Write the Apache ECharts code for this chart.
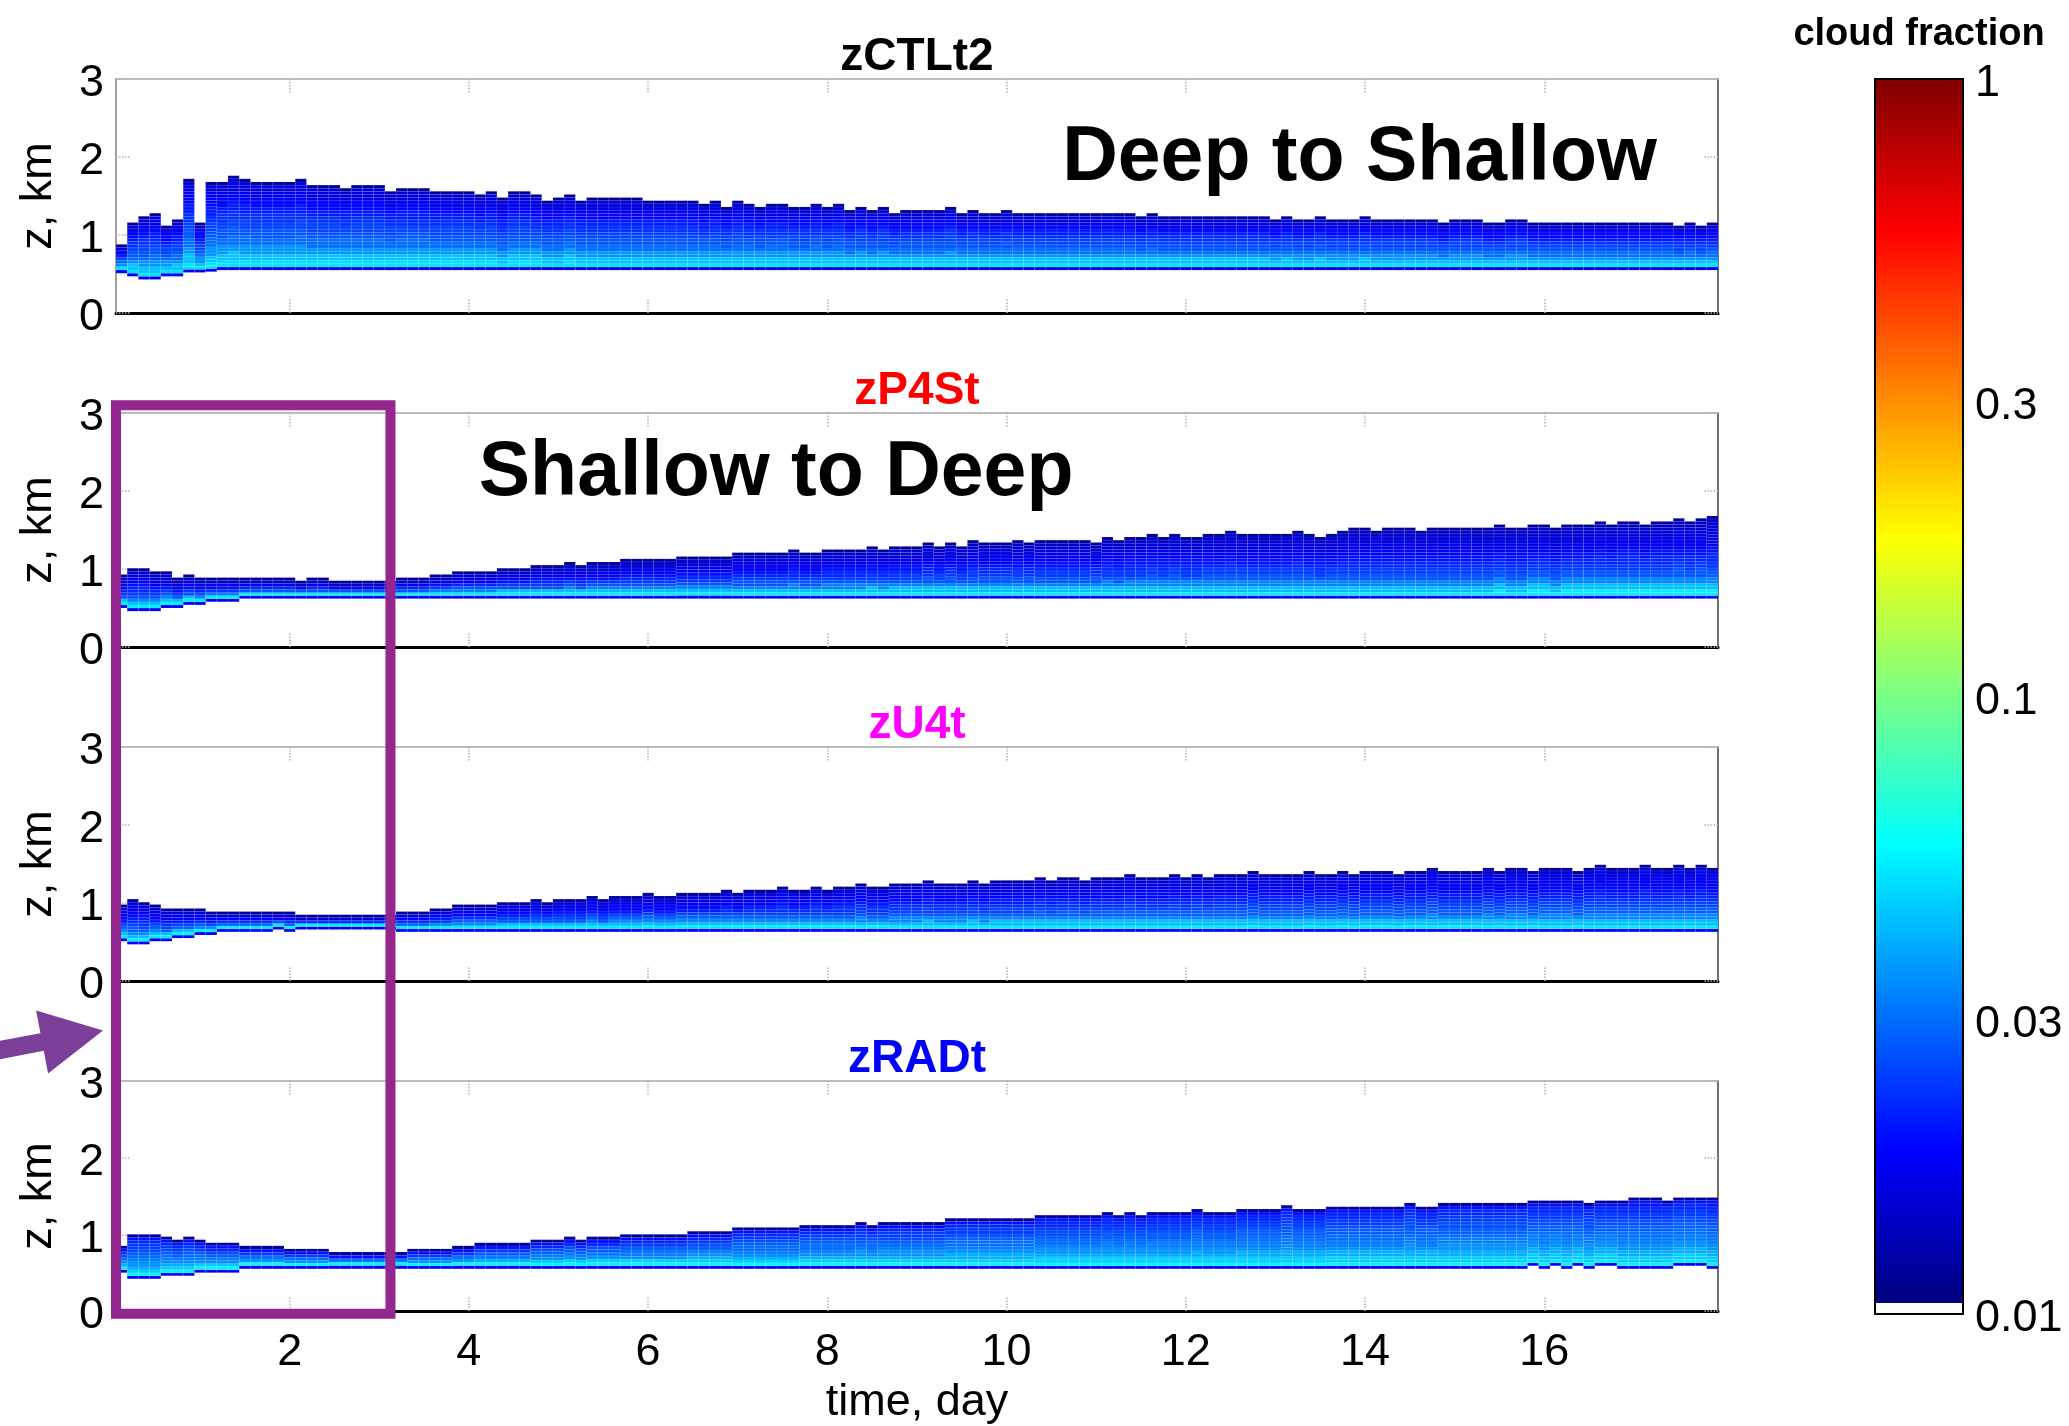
<!DOCTYPE html>
<html>
<head>
<meta charset="utf-8">
<script src="https://cdn.jsdelivr.net/npm/echarts@6/dist/echarts.min.js"></script>
<style>html,body{margin:0;padding:0;background:#fff}#c{width:2069px;height:1426px}</style>
</head>
<body>
<div id="c"></div>
<script>
// ---------------- data ----------------
const T0 = 0.0625;   // start of first 3-hourly bin (day)
const DT = 0.125;    // bin width (day)
const NBIN = 143;
const DZ = 0.04;     // vertical level thickness (km)
const xTickValues = [2, 4, 6, 8, 10, 12, 14, 16];
const cbTickValues = [0.01, 0.03, 0.1, 0.3, 1];
const panelNames = ['zCTLt2', 'zP4St', 'zU4t', 'zRADt'];
const panelColors = ['#000000', '#ff0000', '#ff00ff', '#0000ff'];
const noteTexts = ['Deep to Shallow', 'Shallow to Deep'];

// cloud top height (km) per 3-h bin
const topCTL = [
0.88,1.16,1.24,1.28,1.12,1.20,1.72,1.16,1.68,1.68,
1.76,1.72,1.68,1.68,1.68,1.68,1.72,1.64,1.64,1.64,
1.60,1.64,1.64,1.64,1.56,1.60,1.60,1.60,1.56,1.56,
1.56,1.56,1.52,1.56,1.48,1.56,1.56,1.52,1.44,1.48,
1.52,1.44,1.48,1.48,1.48,1.48,1.48,1.44,1.44,1.44,
1.44,1.44,1.40,1.44,1.36,1.44,1.40,1.36,1.40,1.40,
1.36,1.36,1.40,1.36,1.40,1.32,1.36,1.32,1.36,1.28,
1.32,1.32,1.32,1.32,1.36,1.28,1.32,1.28,1.28,1.32,
1.28,1.28,1.28,1.28,1.28,1.28,1.28,1.28,1.28,1.28,
1.28,1.24,1.28,1.24,1.24,1.24,1.24,1.24,1.24,1.24,
1.24,1.24,1.24,1.20,1.24,1.20,1.20,1.24,1.20,1.20,
1.20,1.24,1.20,1.20,1.20,1.20,1.20,1.20,1.16,1.20,
1.20,1.20,1.16,1.16,1.20,1.20,1.16,1.16,1.16,1.16,
1.16,1.16,1.16,1.16,1.16,1.16,1.16,1.16,1.16,1.12,
1.16,1.12,1.16];
const baseCTL = [
0.51,0.47,0.43,0.43,0.47,0.47,0.52,0.52,0.53,0.55,
0.55,0.55,0.55,0.55,0.55,0.55,0.55,0.55,0.55,0.55,
0.55,0.55,0.55,0.55,0.55,0.55,0.55,0.55,0.55,0.55,
0.55,0.55,0.55,0.55,0.55,0.55,0.55,0.55,0.55,0.55,
0.55,0.55,0.55,0.55,0.55,0.55,0.55,0.55,0.55,0.55,
0.55,0.55,0.55,0.55,0.55,0.55,0.55,0.55,0.55,0.55,
0.55,0.55,0.55,0.55,0.55,0.55,0.55,0.55,0.55,0.55,
0.55,0.55,0.55,0.55,0.55,0.55,0.55,0.55,0.55,0.55,
0.55,0.55,0.55,0.55,0.55,0.55,0.55,0.55,0.55,0.55,
0.55,0.55,0.55,0.55,0.55,0.55,0.55,0.55,0.55,0.55,
0.55,0.55,0.55,0.55,0.55,0.55,0.55,0.55,0.55,0.55,
0.55,0.55,0.55,0.55,0.55,0.55,0.55,0.55,0.55,0.55,
0.55,0.55,0.55,0.55,0.55,0.55,0.55,0.55,0.55,0.55,
0.55,0.55,0.55,0.55,0.55,0.55,0.55,0.55,0.55,0.55,
0.55,0.55,0.55];

const topP4S = [
0.93,1.01,1.01,0.97,0.97,0.89,0.93,0.89,0.89,0.89,
0.89,0.89,0.89,0.89,0.89,0.89,0.85,0.89,0.89,0.85,
0.85,0.85,0.85,0.85,0.85,0.89,0.89,0.89,0.93,0.93,
0.97,0.97,0.97,0.97,1.01,1.01,1.01,1.05,1.05,1.05,
1.09,1.05,1.09,1.09,1.09,1.13,1.13,1.13,1.13,1.13,
1.16,1.16,1.16,1.16,1.16,1.21,1.21,1.21,1.21,1.21,
1.25,1.21,1.21,1.25,1.25,1.25,1.25,1.29,1.25,1.29,
1.29,1.29,1.34,1.29,1.34,1.29,1.37,1.34,1.34,1.34,
1.37,1.34,1.37,1.37,1.37,1.37,1.37,1.34,1.41,1.37,
1.41,1.41,1.45,1.41,1.45,1.41,1.41,1.45,1.45,1.49,
1.45,1.45,1.45,1.45,1.45,1.49,1.45,1.41,1.45,1.49,
1.53,1.53,1.49,1.53,1.53,1.53,1.49,1.53,1.53,1.53,
1.53,1.53,1.53,1.57,1.53,1.53,1.57,1.57,1.53,1.57,
1.57,1.57,1.61,1.57,1.61,1.61,1.57,1.61,1.61,1.65,
1.61,1.65,1.68];
const baseP4S = [
0.50,0.46,0.46,0.46,0.50,0.50,0.54,0.54,0.58,0.58,
0.58,0.62,0.62,0.62,0.62,0.62,0.62,0.62,0.62,0.62,
0.62,0.62,0.62,0.62,0.62,0.62,0.62,0.62,0.62,0.62,
0.62,0.62,0.62,0.62,0.62,0.62,0.62,0.62,0.62,0.62,
0.62,0.62,0.62,0.62,0.62,0.62,0.62,0.62,0.62,0.62,
0.62,0.62,0.62,0.62,0.62,0.62,0.62,0.62,0.62,0.62,
0.62,0.62,0.62,0.62,0.62,0.62,0.62,0.62,0.62,0.62,
0.62,0.62,0.62,0.62,0.62,0.62,0.62,0.62,0.62,0.62,
0.62,0.62,0.62,0.62,0.62,0.62,0.62,0.62,0.62,0.62,
0.62,0.62,0.62,0.62,0.62,0.62,0.62,0.62,0.62,0.62,
0.62,0.62,0.62,0.62,0.62,0.62,0.62,0.62,0.62,0.62,
0.62,0.62,0.62,0.62,0.62,0.62,0.62,0.62,0.62,0.62,
0.62,0.62,0.62,0.62,0.62,0.62,0.62,0.62,0.62,0.62,
0.62,0.62,0.62,0.62,0.62,0.62,0.62,0.62,0.62,0.62,
0.62,0.62,0.62];

const topU4 = [
0.98,1.05,1.01,0.98,0.93,0.93,0.93,0.93,0.89,0.89,
0.89,0.89,0.89,0.89,0.89,0.89,0.85,0.85,0.85,0.85,
0.85,0.85,0.85,0.85,0.85,0.89,0.89,0.89,0.93,0.93,
0.98,0.98,0.98,0.98,1.01,1.01,1.01,1.05,1.01,1.05,
1.05,1.05,1.09,1.05,1.09,1.09,1.09,1.13,1.09,1.09,
1.13,1.13,1.13,1.13,1.17,1.13,1.17,1.17,1.17,1.21,
1.17,1.17,1.21,1.17,1.21,1.21,1.25,1.21,1.21,1.25,
1.25,1.25,1.29,1.25,1.25,1.25,1.29,1.25,1.29,1.29,
1.29,1.29,1.33,1.29,1.33,1.33,1.29,1.33,1.33,1.33,
1.37,1.33,1.33,1.33,1.37,1.33,1.37,1.33,1.37,1.37,
1.37,1.41,1.37,1.37,1.37,1.37,1.41,1.37,1.37,1.41,
1.37,1.41,1.41,1.41,1.37,1.41,1.41,1.45,1.41,1.41,
1.41,1.41,1.45,1.41,1.45,1.45,1.41,1.45,1.45,1.45,
1.41,1.45,1.49,1.45,1.45,1.45,1.49,1.45,1.45,1.49,
1.45,1.49,1.45];
const baseU4 = [
0.51,0.47,0.47,0.51,0.51,0.55,0.55,0.59,0.59,0.63,
0.63,0.63,0.63,0.63,0.66,0.63,0.66,0.66,0.66,0.66,
0.66,0.66,0.66,0.66,0.66,0.63,0.63,0.63,0.63,0.63,
0.63,0.63,0.63,0.63,0.63,0.63,0.63,0.63,0.63,0.63,
0.63,0.63,0.63,0.63,0.63,0.63,0.63,0.63,0.63,0.63,
0.63,0.63,0.63,0.63,0.63,0.63,0.63,0.63,0.63,0.63,
0.63,0.63,0.63,0.63,0.63,0.63,0.63,0.63,0.63,0.63,
0.63,0.63,0.63,0.63,0.63,0.63,0.63,0.63,0.63,0.63,
0.63,0.63,0.63,0.63,0.63,0.63,0.63,0.63,0.63,0.63,
0.63,0.63,0.63,0.63,0.63,0.63,0.63,0.63,0.63,0.63,
0.63,0.63,0.63,0.63,0.63,0.63,0.63,0.63,0.63,0.63,
0.63,0.63,0.63,0.63,0.63,0.63,0.63,0.63,0.63,0.63,
0.63,0.63,0.63,0.63,0.63,0.63,0.63,0.63,0.63,0.63,
0.63,0.63,0.63,0.63,0.63,0.63,0.63,0.63,0.63,0.63,
0.63,0.63,0.63];

const topRAD = [
0.85,1.00,1.00,1.00,0.97,0.93,0.97,0.93,0.89,0.89,
0.89,0.85,0.85,0.85,0.85,0.81,0.81,0.81,0.81,0.77,
0.77,0.77,0.77,0.77,0.77,0.77,0.81,0.81,0.81,0.81,
0.85,0.85,0.89,0.89,0.89,0.89,0.89,0.93,0.93,0.93,
0.97,0.93,0.97,0.97,0.97,1.00,1.00,1.00,1.00,1.00,
1.00,1.04,1.04,1.04,1.04,1.09,1.09,1.09,1.09,1.09,
1.09,1.12,1.12,1.12,1.12,1.12,1.16,1.12,1.16,1.16,
1.16,1.16,1.16,1.16,1.21,1.21,1.21,1.21,1.21,1.21,
1.21,1.21,1.25,1.25,1.25,1.25,1.25,1.25,1.29,1.25,
1.29,1.25,1.29,1.29,1.29,1.29,1.33,1.29,1.29,1.29,
1.33,1.33,1.33,1.33,1.38,1.33,1.33,1.33,1.36,1.36,
1.36,1.36,1.36,1.36,1.36,1.41,1.36,1.36,1.41,1.41,
1.41,1.41,1.41,1.41,1.41,1.41,1.44,1.44,1.44,1.44,
1.44,1.41,1.44,1.44,1.44,1.48,1.48,1.48,1.44,1.48,
1.48,1.48,1.48];
const baseRAD = [
0.50,0.42,0.42,0.42,0.46,0.46,0.46,0.50,0.50,0.50,
0.50,0.55,0.55,0.55,0.55,0.55,0.55,0.55,0.55,0.55,
0.55,0.55,0.55,0.55,0.55,0.55,0.55,0.55,0.55,0.55,
0.55,0.55,0.55,0.55,0.55,0.55,0.55,0.55,0.55,0.55,
0.55,0.55,0.55,0.55,0.55,0.55,0.55,0.55,0.55,0.55,
0.55,0.55,0.55,0.55,0.55,0.55,0.55,0.55,0.55,0.55,
0.55,0.55,0.55,0.55,0.55,0.55,0.55,0.55,0.55,0.55,
0.55,0.55,0.55,0.55,0.55,0.55,0.55,0.55,0.55,0.55,
0.55,0.55,0.55,0.55,0.55,0.55,0.55,0.55,0.55,0.55,
0.55,0.55,0.55,0.55,0.55,0.55,0.55,0.55,0.55,0.55,
0.55,0.55,0.55,0.55,0.55,0.55,0.55,0.55,0.55,0.55,
0.55,0.55,0.55,0.55,0.55,0.55,0.55,0.55,0.55,0.55,
0.55,0.55,0.55,0.55,0.55,0.55,0.59,0.55,0.59,0.55,
0.59,0.55,0.59,0.59,0.55,0.55,0.55,0.55,0.55,0.59,
0.59,0.59,0.55];

// cloud-fraction profile inside a column: bottom (near base) -> top, last = top row
const profCTL = [0.050, 0.043, 0.035, 0.029, 0.026, 0.024, 0.022, 0.020, 0.018, 0.016, 0.015, 0.0115];
const profP4S = [0.052, 0.042, 0.032, 0.026, 0.023, 0.021, 0.019, 0.017, 0.016, 0.015, 0.014, 0.0115];
const profU4  = [0.052, 0.042, 0.033, 0.027, 0.024, 0.022, 0.020, 0.018, 0.017, 0.016, 0.015, 0.0115];
const profRAD = [0.054, 0.045, 0.039, 0.034, 0.031, 0.029, 0.027, 0.025, 0.023, 0.021, 0.019, 0.0115];
const baseRowCf = 0.017;   // thin darker row at cloud base

// ---------------- layout / style ----------------
const FONT = "'Liberation Sans', Arial, Helvetica, sans-serif";
const TMAX = T0 + DT * NBIN;
const GL = 116, GW = 1602, GH = 234;
const PANEL_TOP = [79, 413, 747, 1081];
const CB = {left: 1875, width: 88, top: 79, height: 1235};
const JET9 = ['#000080', '#0000ff', '#0080ff', '#00ffff', '#80ff80', '#ffff00', '#ff8000', '#ff0000', '#800000'];
const TICK_STYLE = {color: '#b4b4b4', width: 1.5, type: 'dotted'};
// tick-label text shifted a few px down (rich fragment padding)
const RICH_LABEL = {t: {fontSize: 45, color: '#000', fontFamily: FONT, padding: [10, 0, 0, 0]}};

function buildCells(tops, bases, prof) {
  const cells = [];
  const P = prof.length;
  for (let i = 0; i < tops.length; i++) {
    const t0 = T0 + DT * i, t1 = t0 + DT;
    const zb = bases[i], zt = tops[i];
    const n = Math.max(3, Math.round((zt - zb) / DZ));
    const h = (zt - zb) / n;
    const m = n - 2;
    for (let k = 0; k < n; k++) {
      let cf;
      if (k === 0) cf = baseRowCf;
      else if (k === n - 1) cf = prof[P - 1];
      else {
        const j = k - 1;
        cf = prof[m > 1 ? Math.round(j * (P - 2) / (m - 1)) : 0];
      }
      cells.push([t0, t1, zb + k * h, zb + (k + 1) * h, Math.log10(cf)]);
    }
  }
  return cells;
}

const panels = [
  buildCells(topCTL, baseCTL, profCTL),
  buildCells(topP4S, baseP4S, profP4S),
  buildCells(topU4, baseU4, profU4),
  buildCells(topRAD, baseRAD, profRAD)
];

function renderCell(params, api) {
  const a = api.coord([api.value(0), api.value(3)]);
  const b = api.coord([api.value(1), api.value(2)]);
  return {
    type: 'rect',
    shape: {x: a[0], y: a[1], width: b[0] - a[0], height: b[1] - a[1]},
    style: {fill: api.visual('color'), stroke: 'rgba(255,255,255,0.10)', lineWidth: 0.7}
  };
}

const grid = [], xAxis = [], yAxis = [], series = [];
for (let p = 0; p < 4; p++) {
  grid.push({left: GL, width: GW, top: PANEL_TOP[p], height: GH});
  xAxis.push({
    gridIndex: p, type: 'value', min: T0, max: TMAX, position: 'bottom',
    axisLine: {show: true, onZero: false, lineStyle: {color: '#000', width: 3}},
    axisTick: {show: true, inside: true, length: 14, customValues: xTickValues, lineStyle: TICK_STYLE},
    axisLabel: {show: p === 3, customValues: xTickValues, fontSize: 45, color: '#000', margin: 19, fontFamily: FONT},
    splitLine: {show: false},
    name: p === 3 ? 'time, day' : '', nameLocation: 'middle', nameGap: 69,
    nameTextStyle: {fontSize: 45, color: '#000', fontFamily: FONT}
  });
  xAxis.push({
    gridIndex: p, type: 'value', min: T0, max: TMAX, position: 'top',
    axisLine: {show: true, onZero: false, lineStyle: {color: '#a8a8a8', width: 1.5}},
    axisTick: {show: true, inside: true, length: 14, customValues: xTickValues, lineStyle: TICK_STYLE},
    axisLabel: {show: false}, splitLine: {show: false}
  });
  yAxis.push({
    gridIndex: p, type: 'value', min: 0, max: 3, interval: 1, position: 'left',
    axisLine: {show: true, onZero: false, lineStyle: {color: '#808080', width: 1.5}},
    axisTick: {show: true, inside: true, length: 14, lineStyle: TICK_STYLE},
    axisLabel: {fontSize: 45, color: '#000', margin: 12, fontFamily: FONT,
      formatter: v => '{t|' + v + '}', rich: RICH_LABEL},
    splitLine: {show: false},
    name: 'z, km', nameLocation: 'middle', nameRotate: 90, nameGap: 55,
    nameTextStyle: {fontSize: 45, color: '#000', fontFamily: FONT}
  });
  yAxis.push({
    gridIndex: p, type: 'value', min: 0, max: 3, interval: 1, position: 'right',
    axisLine: {show: true, onZero: false, lineStyle: {color: '#404040', width: 1.5}},
    axisTick: {show: true, inside: true, length: 14, lineStyle: TICK_STYLE},
    axisLabel: {show: false}, splitLine: {show: false}
  });
  series.push({
    type: 'custom', name: panelNames[p], xAxisIndex: 2 * p, yAxisIndex: 2 * p,
    renderItem: renderCell, encode: {x: [0, 1], y: [2, 3]}, data: panels[p], silent: true
  });
}

// colour bar
const cbLog = cbTickValues.map(v => Math.log10(v));
const cbInner = cbLog.slice(1, -1);
grid.push({left: CB.left, width: CB.width, top: CB.top, height: CB.height});
xAxis.push({gridIndex: 4, type: 'value', min: 0, max: 1, show: false});
yAxis.push({
  gridIndex: 4, type: 'value', min: cbLog[0], max: cbLog[cbLog.length - 1], position: 'left',
  axisLine: {show: false}, splitLine: {show: false}, axisLabel: {show: false},
  axisTick: {show: true, inside: true, length: 14, customValues: cbInner, lineStyle: {color: '#000', width: 1.5}}
});
yAxis.push({
  gridIndex: 4, type: 'value', min: cbLog[0], max: cbLog[cbLog.length - 1], position: 'right',
  axisLine: {show: false}, splitLine: {show: false},
  axisTick: {show: true, inside: true, length: 14, customValues: cbInner, lineStyle: {color: '#000', width: 1.5}},
  axisLabel: {show: true, customValues: cbLog, fontSize: 45, color: '#000', margin: 12, fontFamily: FONT,
    formatter: v => '{t|' + String(parseFloat(Math.pow(10, v).toPrecision(1))) + '}', rich: RICH_LABEL}
});
series.push({
  type: 'custom', xAxisIndex: 8, yAxisIndex: 8, silent: true, z: 1,
  data: [[0, 1, cbLog[0], cbLog[cbLog.length - 1]]],
  renderItem: function (params, api) {
    const a = api.coord([api.value(0), api.value(3)]);
    const b = api.coord([api.value(1), api.value(2)]);
    const stops = [{offset: 0, color: '#ffffff'}, {offset: 0.0095, color: '#ffffff'}];
    JET9.forEach((c, i) => stops.push({offset: 0.01 + 0.99 * i / (JET9.length - 1), color: c}));
    return {
      type: 'rect', shape: {x: a[0], y: a[1], width: b[0] - a[0], height: b[1] - a[1]},
      style: {fill: new echarts.graphic.LinearGradient(0, 1, 0, 0, stops), stroke: '#000', lineWidth: 2}
    };
  }
});

const chart = echarts.init(document.getElementById('c'));
chart.setOption({
  animation: false,
  backgroundColor: '#fff',
  grid, xAxis, yAxis, series,
  visualMap: {type: 'continuous', show: false, dimension: 4, min: cbLog[0], max: cbLog[cbLog.length - 1],
    seriesIndex: [0, 1, 2, 3], inRange: {color: JET9}}
});

// ---------------- annotations ----------------
const toPx = (p, v) => chart.convertToPixel({xAxisIndex: 2 * p, yAxisIndex: 2 * p}, v);
const TMID = (T0 + TMAX) / 2;
const graphic = [];
panelNames.forEach((name, p) => {
  const c = toPx(p, [TMID, 3]);
  graphic.push({type: 'text', x: c[0], y: c[1] - 22, z: 10,
    style: {text: name, fill: panelColors[p], fontSize: 46, fontWeight: 'bold', fontFamily: FONT, align: 'center', verticalAlign: 'middle'}});
});
const n1 = toPx(0, [10.62, 1.98]);
graphic.push({type: 'text', x: n1[0], y: n1[1], z: 10,
  style: {text: noteTexts[0], fill: '#000', fontSize: 77, fontWeight: 'bold', fontFamily: FONT, align: 'left', verticalAlign: 'middle'}});
const n2 = toPx(1, [4.11, 2.22]);
graphic.push({type: 'text', x: n2[0], y: n2[1], z: 10,
  style: {text: noteTexts[1], fill: '#000', fontSize: 77, fontWeight: 'bold', fontFamily: FONT, align: 'left', verticalAlign: 'middle'}});
graphic.push({type: 'text', x: CB.left + CB.width / 2, y: CB.top - 44, z: 10,
  style: {text: 'cloud fraction', fill: '#000', fontSize: 38, fontWeight: 'bold', fontFamily: FONT, align: 'center', verticalAlign: 'middle'}});

// purple box spanning panels 2-4 over days 0-3.1
const bTL = toPx(1, [T0, 3.1]);
const bBR = toPx(3, [3.125, -0.035]);
graphic.push({type: 'rect', z: 20, shape: {x: bTL[0], y: bTL[1], width: bBR[0] - bTL[0], height: bBR[1] - bTL[1]},
  style: {fill: 'none', stroke: '#93278f', lineWidth: 10}});

// arrow pointing at panel 4
const tip = toPx(3, [T0, 3.66]);
const tipX = tip[0] - 13, tipY = tip[1];
const ang = Math.atan2(-0.19, 1);
const ca = Math.cos(ang), sa = Math.sin(ang);
const local = [[0, 0], [-62, -32], [-62, -9], [-160, -9], [-160, 9], [-62, 9], [-62, 32]];
const pts = local.map(([x, y]) => [tipX + x * ca - y * sa, tipY + x * sa + y * ca]);
graphic.push({type: 'polygon', z: 20, shape: {points: pts}, style: {fill: '#7b3f99'}});

chart.setOption({graphic});
</script>
</body>
</html>
